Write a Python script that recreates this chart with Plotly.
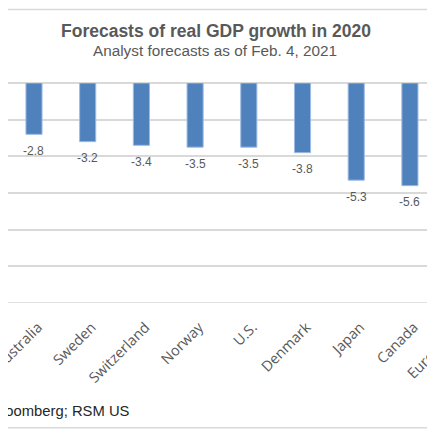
import plotly.graph_objects as go

countries = ["Australia", "Sweden", "Switzerland", "Norway", "U.S.",
             "Denmark", "Japan", "Canada", "Euro area"]
gdp_2020 = [-2.8, -3.2, -3.4, -3.5, -3.5, -3.8, -5.3, -5.6, -6.8]
y_min, y_max, y_step = -12, 0, 2

grey = "#595959"
grid = "#d9d9d9"

fig = go.Figure()
fig.add_trace(go.Bar(
    x=countries, y=gdp_2020,
    width=0.3,
    marker=dict(color="#4f81bd", line=dict(color="#9dbbe3", width=1)),
    hoverinfo="x+y",
))

# value labels under each bar end
for c, v in zip(countries, gdp_2020):
    fig.add_annotation(x=c, y=v, text=f"{v:.1f}", showarrow=False,
                       yanchor="middle", yshift=-16.5,
                       font=dict(family="Liberation Sans, Arial", size=12, color=grey))

# titles and source
fig.add_annotation(xref="paper", yref="paper", x=0.487, y=1.2357,
                   text="<b>Forecasts of real GDP growth in 2020</b>", showarrow=False,
                   xanchor="center", yanchor="middle",
                   font=dict(family="Liberation Sans, Arial", size=17.5, color=grey))
fig.add_annotation(xref="paper", yref="paper", x=0.4845, y=1.148,
                   text="Analyst forecasts as of Feb. 4, 2021", showarrow=False,
                   xanchor="center", yanchor="middle",
                   font=dict(family="Liberation Sans, Arial", size=15.3, color=grey))
fig.add_annotation(xref="paper", yref="paper", x=0.291, y=-0.491,
                   text="Source: Bloomberg; RSM US", showarrow=False,
                   xanchor="right", yanchor="middle",
                   font=dict(family="Liberation Sans, Arial", size=14.8, color="#262626"))
# last category label sits past the visible range
fig.add_annotation(xref="paper", yref="paper", x=1.072, y=-0.075,
                   text="Euro area", showarrow=False, textangle=-45,
                   xanchor="right", yanchor="top",
                   font=dict(family="Open Sans", size=14.5, color=grey))

# bottom gridline (sits on the plot edge) and chart frame lines
fig.add_shape(type="line", xref="paper", yref="y", x0=0, x1=1, y0=y_min, y1=y_min,
              line=dict(color=grid, width=1.5))
for yy in (1.334, -0.567):
    fig.add_shape(type="line", xref="paper", yref="paper", x0=0, x1=1, y0=yy, y1=yy,
                  line=dict(color=grid, width=1.5))

fig.update_layout(
    width=427, height=427,
    margin=dict(l=0, r=0, t=74.7, b=131.7),
    paper_bgcolor="white", plot_bgcolor="white",
    showlegend=False,
)
fig.update_xaxes(type="category", range=[-0.484, 7.467], tickangle=-45,
                 showgrid=False, showline=False, ticks="", automargin=False,
                 ticklabelstandoff=12, ticklabelshift=4,
                 tickfont=dict(family="Open Sans", size=14.5, color=grey))
fig.update_yaxes(range=[y_min, y_max], dtick=y_step, showticklabels=False, gridcolor=grid,
                 gridwidth=1.5, zeroline=True, zerolinecolor=grid, zerolinewidth=1.5,
                 automargin=False)

fig.write_html("out.html")
